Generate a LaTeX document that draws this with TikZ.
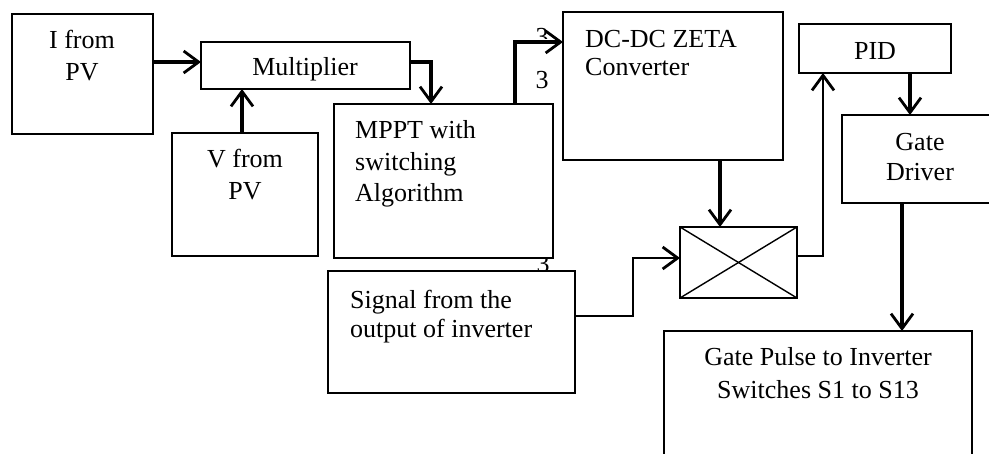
\documentclass[tikz,border=0pt]{standalone}
\usepackage{fontspec}
\setmainfont{Liberation Serif}
\usetikzlibrary{arrows.meta}
\begin{document}
\begin{tikzpicture}[x=1pt,y=-1pt,
  box/.style={draw,line width=2.1pt,inner sep=0pt,outer sep=0pt,anchor=north west,fill=white},
  txt/.style={anchor=base,inner sep=0pt,font=\fontsize{26}{31}\selectfont},
  ltxt/.style={anchor=base west,inner sep=0pt,font=\fontsize{26}{31}\selectfont},
  arr/.style={line width=3.2pt,-{Straight Barb[length=15pt,width=22pt,line width=2.8pt]}},
  thinarr/.style={line width=2.2pt,-{Straight Barb[length=15pt,width=22pt,line width=2.8pt]}}]
\clip (0,0) rectangle (989,453);
\fill[white] (0,0) rectangle (989,453);
% partial "3" labels (drawn first so boxes cover them)
\begin{scope}
  \clip (530,20) rectangle (556,38);
  \node[txt] (t3a) at (542,45) {3};
\end{scope}
\begin{scope}
  \clip (530,259) rectangle (556,270);
  \node[txt] (t3c) at (543,272) {3};
\end{scope}
% boxes
\node[box,minimum width=141pt,minimum height=120pt] (ipv) at (12,14) {};
\node[box,minimum width=209pt,minimum height=47pt] (mult) at (201,42) {};
\node[box,minimum width=146pt,minimum height=123pt] (vpv) at (172,133) {};
\node[box,minimum width=219pt,minimum height=154pt] (mppt) at (334,104) {};
\node[box,minimum width=220pt,minimum height=148pt] (dcdc) at (563,12) {};
\node[box,minimum width=152pt,minimum height=49pt] (pid) at (799,24) {};
\node[box,minimum width=170pt,minimum height=88pt] (gd) at (842,115) {};
\node[box,minimum width=117pt,minimum height=71pt] (xbox) at (680,227) {};
\node[box,minimum width=247pt,minimum height=122pt] (sig) at (328,271) {};
\node[box,minimum width=308pt,minimum height=140pt] (gp) at (664,331) {};
\draw[line width=1.4pt] (xbox.north west) -- (xbox.south east);
\draw[line width=1.4pt] (xbox.north east) -- (xbox.south west);
% texts
\node[txt] (l1) at (82,48) {I from};
\node[txt] (l2) at (82,80) {PV};
\node[txt] (l3) at (305,75) {Multiplier};
\node[txt] (l4) at (245,167) {V from};
\node[txt] (l5) at (245,199) {PV};
\node[ltxt] (l6) at (355,138) {MPPT with};
\node[ltxt] (l7) at (355,170) {switching};
\node[ltxt] (l8) at (355,201) {Algorithm};
\node[ltxt] (l9) at (585,47) {DC-DC ZETA};
\node[ltxt] (l10) at (585,75) {Converter};
\node[txt] (l11) at (875,59) {PID};
\node[txt] (l12) at (920,150) {Gate};
\node[txt] (l13) at (920,180) {Driver};
\node[ltxt] (l14) at (350,308) {Signal from the};
\node[ltxt] (l15) at (350,337) {output of inverter};
\node[txt] (l16) at (818,365) {Gate Pulse to Inverter};
\node[txt] (l17) at (818,398) {Switches S1 to S13};
\node[txt] (t3b) at (542,88) {3};
% connectors
\draw[arr] (ipv.east |- 0,62) -- (mult.west |- 0,62);
\draw[arr] (vpv.north -| 242,0) -- (mult.south -| 242,0);
\draw[arr] (mult.east |- 0,62) -| (mppt.north -| 431,0);
\draw[arr] (mppt.north -| 515,0) |- (dcdc.west |- 0,42);
\draw[arr] (dcdc.south -| 720,0) -- (xbox.north -| 720,0);
\draw[thinarr] (sig.east |- 0,316) -| (633,258) -- (xbox.west |- 0,258);
\draw[thinarr] (xbox.east |- 0,256) -| (pid.south -| 823,0);
\draw[arr] (pid.south -| 910,0) -- (gd.north -| 910,0);
\draw[arr] (gd.south -| 902,0) -- (gp.north -| 902,0);
\end{tikzpicture}
\end{document}
